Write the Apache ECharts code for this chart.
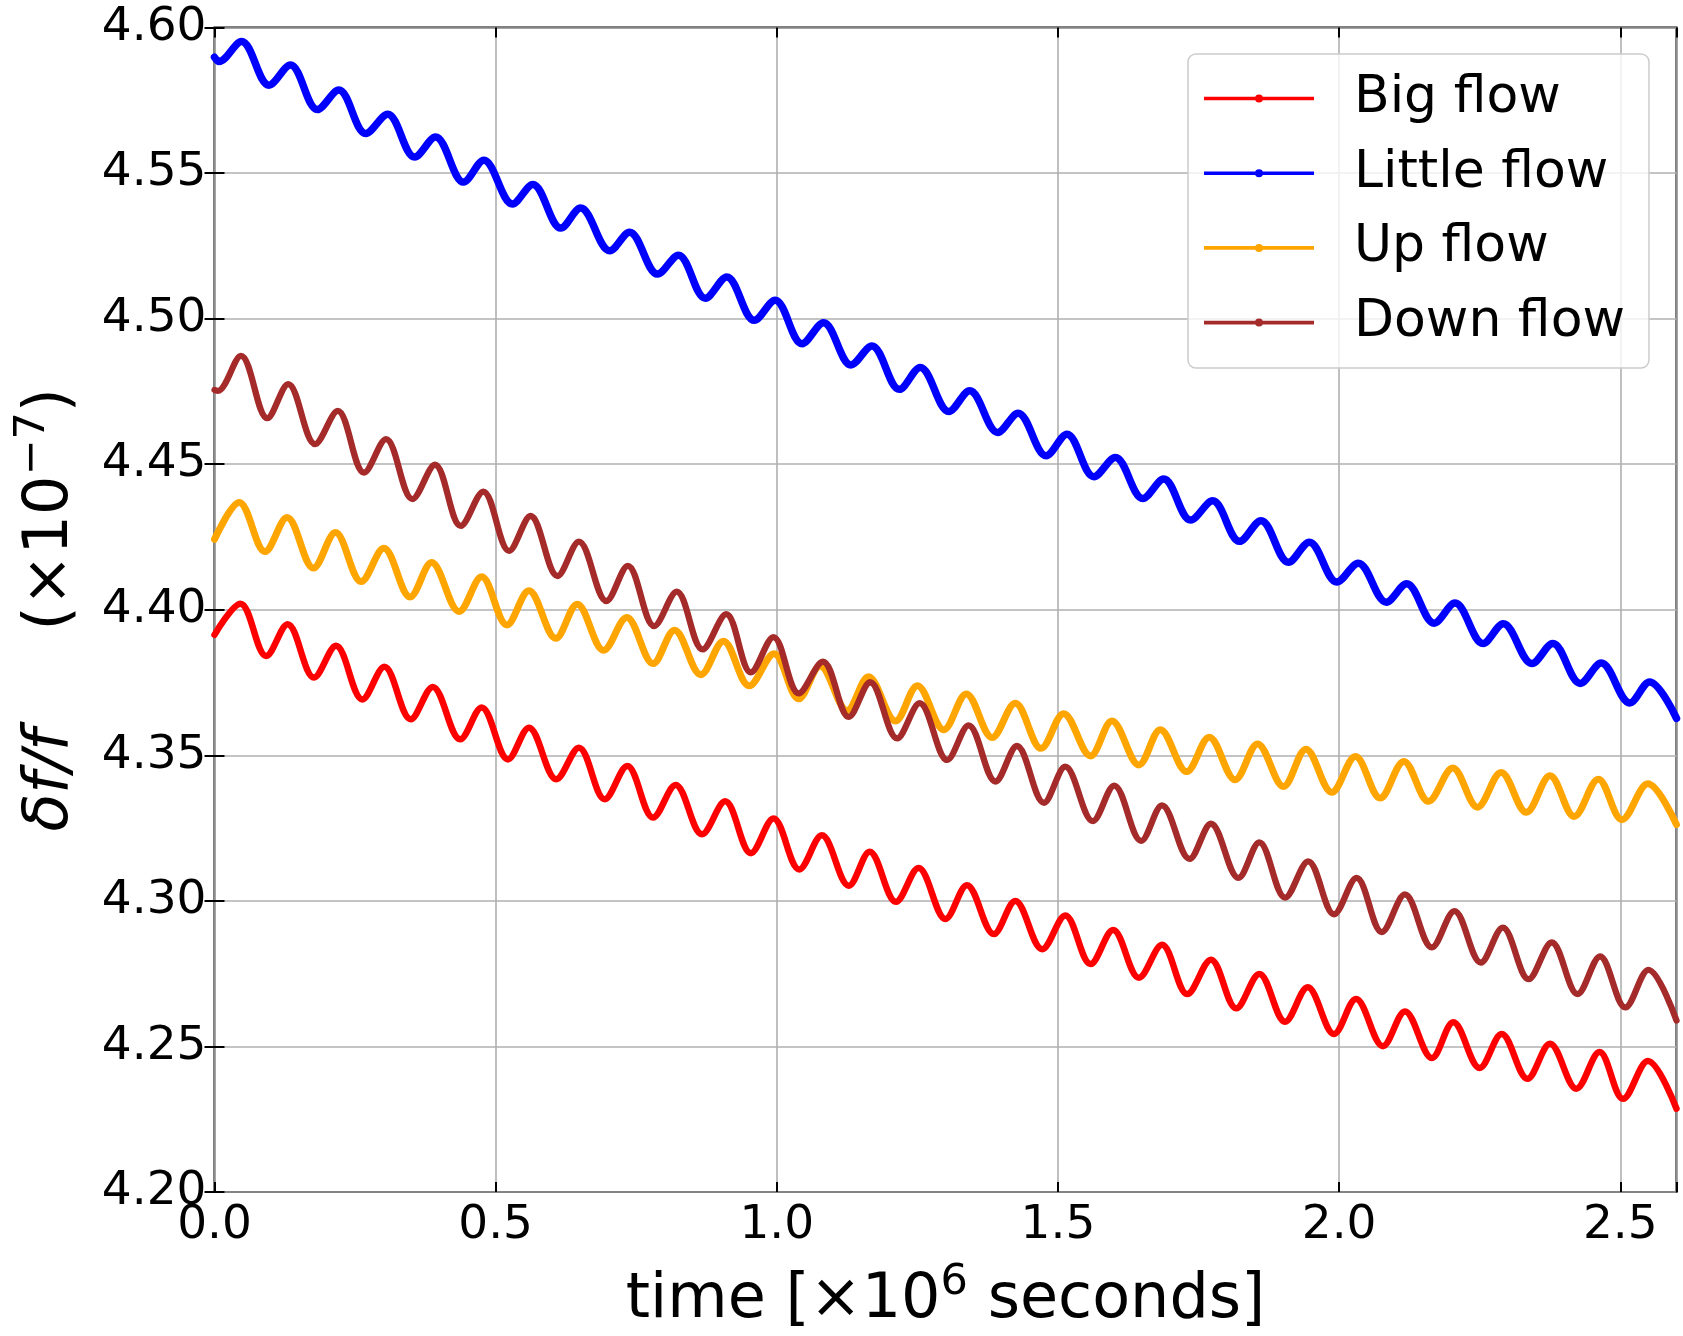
<!DOCTYPE html>
<html><head><meta charset="utf-8">
<script src="https://cdn.jsdelivr.net/npm/echarts@6/dist/echarts.min.js"></script>
<style>html,body{margin:0;padding:0;background:#fff}#c{width:1683px;height:1336px}</style>
</head><body><div id="c"></div>
<script>
// time in units of 10^6 s, value in units of 10^-7 (peaks and troughs)
const seriesNames = ['Big flow', 'Little flow', 'Up flow', 'Down flow'];
const seriesColors = ['#ff0000', '#0000ff', '#ffa500', '#a52a2a'];

const bigFlow = [[0,4.3914],[0.046,4.4021],[0.092,4.3841],[0.130,4.3950],[0.177,4.3767],[0.216,4.3876],[0.263,4.3692],[0.302,4.3804],[0.349,4.3624],[0.388,4.3735],[0.437,4.3555],[0.475,4.3664],[0.522,4.3486],[0.559,4.3595],[0.608,4.3418],[0.648,4.3526],[0.694,4.3349],[0.734,4.3463],[0.780,4.3286],[0.820,4.3398],[0.867,4.3229],[0.908,4.3342],[0.954,4.3164],[0.994,4.3283],[1.040,4.3108],[1.080,4.3225],[1.128,4.3052],[1.165,4.3169],[1.212,4.2997],[1.252,4.3113],[1.300,4.2938],[1.338,4.3054],[1.386,4.2886],[1.424,4.3000],[1.472,4.2834],[1.513,4.2950],[1.558,4.2783],[1.598,4.2900],[1.644,4.2736],[1.685,4.2849],[1.730,4.2680],[1.772,4.2798],[1.817,4.2631],[1.858,4.2749],[1.904,4.2585],[1.944,4.2703],[1.991,4.2543],[2.030,4.2663],[2.078,4.2501],[2.117,4.2620],[2.165,4.2460],[2.203,4.2583],[2.250,4.2426],[2.289,4.2543],[2.335,4.2389],[2.375,4.2509],[2.422,4.2355],[2.463,4.2481],[2.505,4.2320],[2.549,4.2450],[2.6,4.2286]];

const littleFlow = [[0,4.5898],[0.008,4.5883],[0.048,4.5952],[0.097,4.5802],[0.135,4.5871],[0.183,4.5718],[0.221,4.5785],[0.269,4.5636],[0.308,4.5702],[0.356,4.5555],[0.393,4.5624],[0.443,4.5469],[0.479,4.5544],[0.530,4.5394],[0.566,4.5461],[0.616,4.5311],[0.651,4.5380],[0.703,4.5233],[0.738,4.5297],[0.788,4.5153],[0.825,4.5218],[0.873,4.5070],[0.911,4.5143],[0.960,4.4994],[0.997,4.5063],[1.045,4.4914],[1.083,4.4986],[1.132,4.4841],[1.169,4.4906],[1.218,4.4757],[1.255,4.4832],[1.306,4.4681],[1.343,4.4752],[1.393,4.4609],[1.429,4.4675],[1.479,4.4529],[1.516,4.4603],[1.564,4.4457],[1.602,4.4523],[1.651,4.4382],[1.688,4.4449],[1.736,4.4308],[1.775,4.4374],[1.823,4.4235],[1.861,4.4306],[1.910,4.4163],[1.947,4.4232],[1.996,4.4095],[2.034,4.4160],[2.084,4.4026],[2.120,4.4089],[2.169,4.3954],[2.206,4.4023],[2.256,4.3884],[2.292,4.3952],[2.343,4.3815],[2.380,4.3884],[2.429,4.3747],[2.466,4.3817],[2.517,4.3680],[2.552,4.3752],[2.6,4.3627]];

const upFlow = [[0,4.4242],[0.044,4.4368],[0.090,4.4200],[0.129,4.4317],[0.176,4.4143],[0.215,4.4265],[0.261,4.4097],[0.301,4.4211],[0.348,4.4044],[0.386,4.4162],[0.435,4.3994],[0.475,4.4113],[0.520,4.3948],[0.559,4.4065],[0.607,4.3902],[0.645,4.4019],[0.692,4.3861],[0.733,4.3973],[0.780,4.3815],[0.818,4.3930],[0.865,4.3777],[0.905,4.3892],[0.951,4.3739],[0.995,4.3849],[1.039,4.3694],[1.077,4.3807],[1.125,4.3654],[1.163,4.3770],[1.211,4.3618],[1.250,4.3739],[1.297,4.3588],[1.337,4.3711],[1.383,4.3561],[1.424,4.3679],[1.470,4.3524],[1.510,4.3643],[1.558,4.3498],[1.596,4.3618],[1.644,4.3467],[1.682,4.3588],[1.729,4.3444],[1.769,4.3562],[1.815,4.3416],[1.855,4.3539],[1.901,4.3393],[1.941,4.3521],[1.987,4.3373],[2.029,4.3496],[2.073,4.3353],[2.115,4.3479],[2.159,4.3342],[2.202,4.3456],[2.246,4.3322],[2.288,4.3441],[2.333,4.3304],[2.375,4.3430],[2.418,4.3290],[2.461,4.3418],[2.503,4.3279],[2.549,4.3402],[2.6,4.3262]];

const downFlow = [[0,4.4755],[0.006,4.4752],[0.047,4.4872],[0.094,4.4658],[0.131,4.4775],[0.179,4.4569],[0.219,4.4683],[0.266,4.4471],[0.305,4.4586],[0.352,4.4380],[0.392,4.4498],[0.438,4.4288],[0.478,4.4406],[0.524,4.4202],[0.562,4.4322],[0.610,4.4116],[0.648,4.4234],[0.697,4.4030],[0.735,4.4151],[0.782,4.3944],[0.822,4.4062],[0.868,4.3864],[0.910,4.3985],[0.954,4.3785],[0.994,4.3906],[1.039,4.3713],[1.082,4.3822],[1.128,4.3632],[1.166,4.3751],[1.214,4.3558],[1.254,4.3679],[1.303,4.3484],[1.341,4.3603],[1.389,4.3410],[1.427,4.3532],[1.475,4.3337],[1.513,4.3461],[1.562,4.3274],[1.600,4.3396],[1.648,4.3206],[1.685,4.3328],[1.734,4.3144],[1.772,4.3265],[1.821,4.3079],[1.858,4.3201],[1.904,4.3011],[1.945,4.3136],[1.991,4.2954],[2.031,4.3079],[2.076,4.2893],[2.117,4.3022],[2.165,4.2840],[2.205,4.2965],[2.252,4.2788],[2.291,4.2908],[2.337,4.2731],[2.378,4.2857],[2.424,4.2680],[2.464,4.2809],[2.509,4.2634],[2.550,4.2763],[2.6,4.2589]];

const xTickMin = 0, xTickMax = 2.6, xTickStep = 0.5;
const yTickMin = 4.20, yTickMax = 4.60, yTickStep = 0.05;

const allData = [bigFlow, littleFlow, upFlow, downFlow];
const lineWidths = [6.5, 7.5, 7, 6.3];

const FONT = 'DejaVu Sans';
const chart = echarts.init(document.getElementById('c'), null, {renderer: 'canvas'});
const legendIcon = 'path://M0,3.2H110V6.8H0Z M51,5a4,4 0 1,1 8,0a4,4 0 1,1 -8,0Z';

const tickCommon = {show: true, inside: true, length: 10, lineStyle: {color: '#000', width: 2}};

chart.setOption({
  animation: false,
  backgroundColor: '#fff',
  grid: {left: 214.5, right: 6.5, top: 27.5, bottom: 144, outerBoundsMode: 'none', containLabel: false,
    show: true, borderColor: '#000', borderWidth: 2, backgroundColor: 'transparent'},
  legend: {
    orient: 'vertical', left: 1188, top: 54,
    padding: [14.5, 24, 15.5, 16],
    itemWidth: 110, itemHeight: 8, itemGap: 14.7,
    backgroundColor: 'rgba(255,255,255,0.8)', borderColor: '#cccccc', borderWidth: 1.5, borderRadius: 8,
    itemStyle: {borderWidth: 0},
    textStyle: {fontFamily: FONT, fontSize: 52, color: '#000', lineHeight: 60, padding: [0, 0, 0, 35]},
    data: seriesNames.map(n => ({name: n, icon: legendIcon}))
  },
  xAxis: [{
    type: 'value', min: xTickMin, max: xTickMax, interval: xTickStep,
    name: 'time [×10{sup|6} seconds]', nameLocation: 'middle', nameGap: 69,
    nameTextStyle: {fontFamily: FONT, fontSize: 62, color: '#000', lineHeight: 80,
      rich: {sup: {fontFamily: FONT, fontSize: 43, lineHeight: 43, verticalAlign: 'top', color: '#000'}}},
    axisLine: {show: false},
    axisTick: tickCommon,
    axisLabel: {fontFamily: FONT, fontSize: 47, color: '#000', margin: 10,
      formatter: v => (Math.abs(v - xTickMax) < 1e-9 ? '' : v.toFixed(1))},
    splitLine: {show: true, lineStyle: {color: '#b0b0b0', width: 1.6}}
  }, {
    type: 'value', position: 'top', min: xTickMin, max: xTickMax, interval: xTickStep,
    axisLine: {show: false}, axisTick: tickCommon, axisLabel: {show: false}, splitLine: {show: false}
  }],
  yAxis: [{
    type: 'value', min: yTickMin, max: yTickMax, interval: yTickStep,
    name: '{i|δf/f}     (×10{sup|−7})', nameLocation: 'middle', nameRotate: 90, nameGap: 117,
    nameTextStyle: {fontFamily: FONT, fontSize: 62, color: '#000', lineHeight: 80,
      rich: {i: {fontFamily: FONT, fontSize: 62, fontStyle: 'italic', color: '#000', lineHeight: 80},
             sup: {fontFamily: FONT, fontSize: 43, lineHeight: 43, verticalAlign: 'top', color: '#000'}}},
    axisLine: {show: false},
    axisTick: tickCommon,
    axisLabel: {fontFamily: FONT, fontSize: 47, color: '#000', margin: 8, formatter: v => v.toFixed(2)},
    splitLine: {show: true, lineStyle: {color: '#b0b0b0', width: 1.6}}
  }, {
    type: 'value', position: 'right', min: yTickMin, max: yTickMax, interval: yTickStep,
    axisLine: {show: false}, axisTick: tickCommon, axisLabel: {show: false}, splitLine: {show: false}
  }],
  series: seriesNames.map((n, i) => ({
    name: n, type: 'line', data: allData[i], xAxisIndex: 0, yAxisIndex: 0,
    showSymbol: false, symbol: 'none', smooth: 0.35,
    color: seriesColors[i],
    lineStyle: {color: seriesColors[i], width: lineWidths[i], join: 'round', cap: 'round'},
    z: 2 + i
  }))
});
</script>
</body></html>
